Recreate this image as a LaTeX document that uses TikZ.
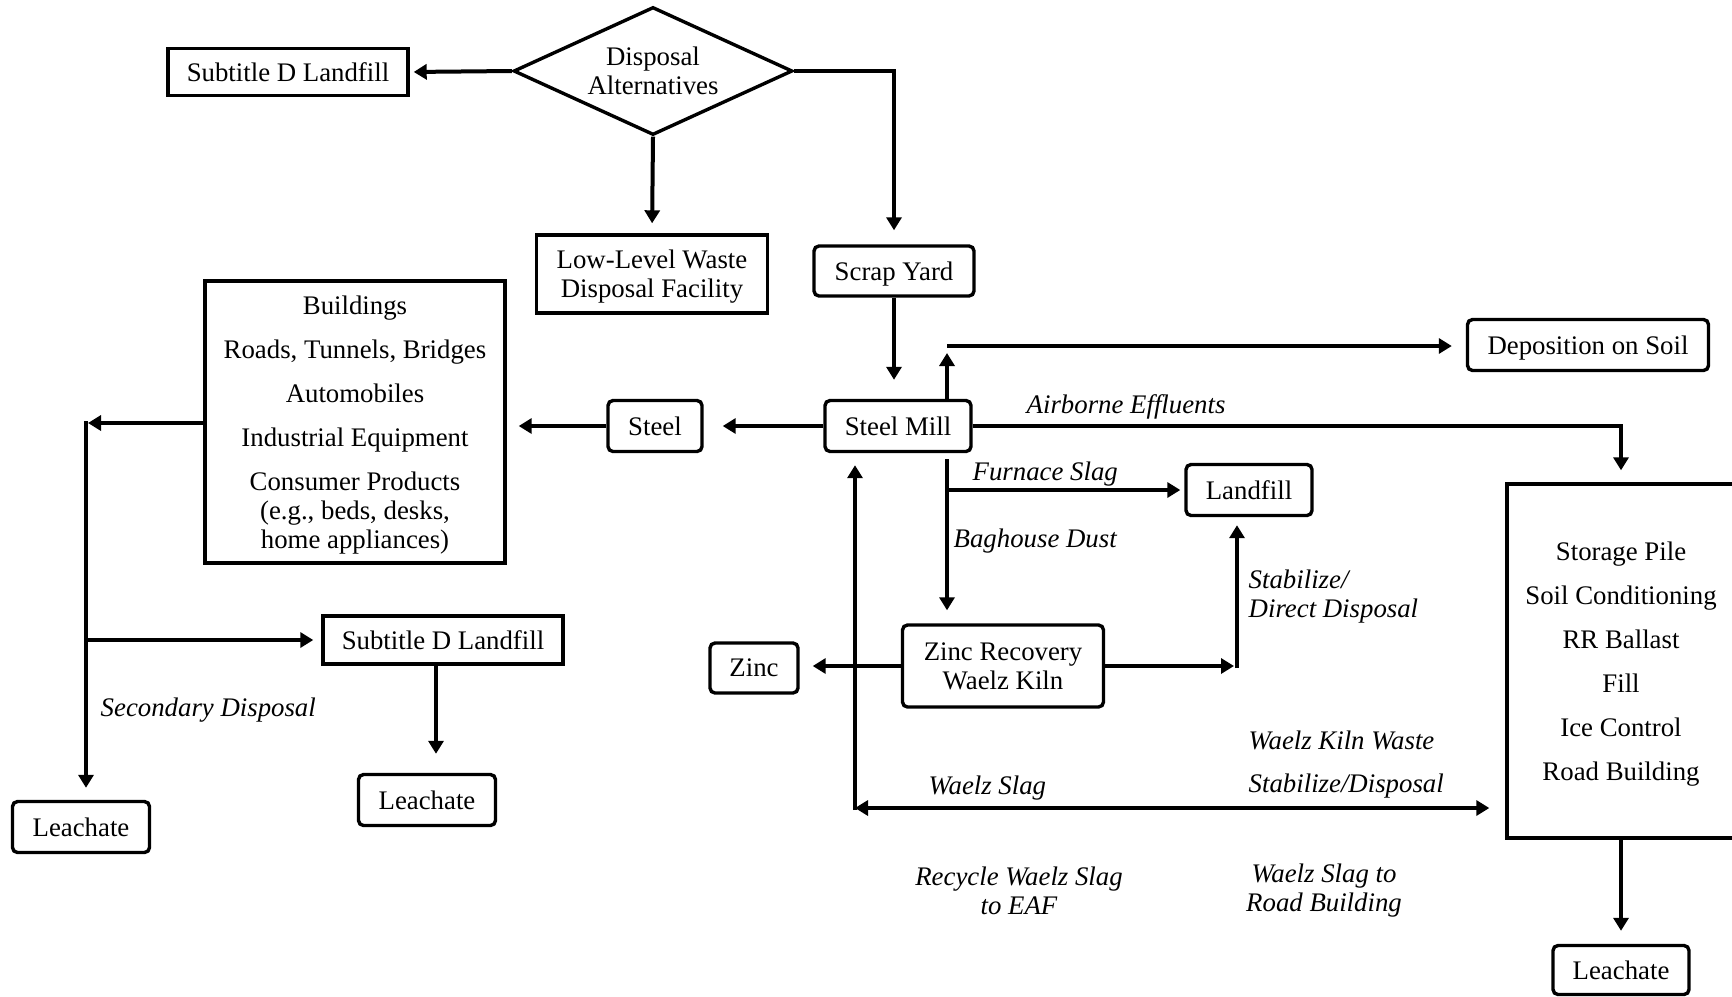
\documentclass[tikz,border=0pt]{standalone}
\usepackage{fontspec}
\setmainfont{Liberation Serif}
\usetikzlibrary{shapes.geometric,arrows.meta}
\begin{document}
\begin{tikzpicture}
    [x=0.5pt, y=-0.5pt, line width=1.7pt,
      font=\fontsize{13.4}{14.5}\selectfont,
      box/.style={draw, rectangle, inner sep=0pt, align=center, text depth=0pt},
      rbox/.style={box, rounded corners=2.5pt},
      lbl/.style={inner sep=0pt, font=\fontsize{13.4}{14.5}\selectfont\itshape},
      arr/.style={-{Triangle[length=6.5pt,width=7.5pt]}, line width=2pt}]
    \useasboundingbox (0,0) rectangle (1732,996);
    \node[draw, diamond, aspect=2.2, inner sep=0pt, align=center,
      minimum width=139.5pt, minimum height=64pt] (disp) at (653,71) {Disposal\\Alternatives};
    \node[box, minimum width=120pt, minimum height=23.5pt] (subA) at (288,72) {Subtitle D Landfill};
    \node[box, minimum width=115.5pt, minimum height=39pt] (llw) at (652,274) {Low-Level Waste\\Disposal Facility};
    \node[rbox, minimum width=80pt, minimum height=25pt] (scrap) at (894,271) {Scrap Yard};
    \node[rbox, minimum width=73pt, minimum height=25.5pt] (mill) at (898,426) {Steel Mill};
    \node[rbox, minimum width=47pt, minimum height=25.5pt] (steel) at (655,426) {Steel};
    \node[box, minimum width=150pt, minimum height=141pt] (bldg) at (355,422)
      {Buildings\\[7.5pt]Roads, Tunnels, Bridges\\[7.5pt]Automobiles\\[7.5pt]Industrial Equipment\\[7.5pt]Consumer Products\\(e.g., beds, desks,\\home appliances)};
    \node[rbox, minimum width=120.5pt, minimum height=25.5pt] (depo) at (1588,345) {Deposition on Soil};
    \node[rbox, minimum width=63pt, minimum height=25.5pt] (fill) at (1249,490) {Landfill};
    \node[rbox, minimum width=100.5pt, minimum height=41pt] (kiln) at (1003,666) {Zinc Recovery\\Waelz Kiln};
    \node[rbox, minimum width=44pt, minimum height=25pt] (zinc) at (754,668) {Zinc};
    \node[box, minimum width=120pt, minimum height=24pt] (subB) at (443,640) {Subtitle D Landfill};
    \node[rbox, minimum width=68.5pt, minimum height=25.5pt] (leachA) at (81,827) {Leachate};
    \node[rbox, minimum width=68.5pt, minimum height=25.5pt] (leachB) at (427,800) {Leachate};
    \node[box, minimum width=114pt, minimum height=177pt] (store) at (1621,661)
      {Storage Pile\\[7.5pt]Soil Conditioning\\[7.5pt]RR Ballast\\[7.5pt]Fill\\[7.5pt]Ice Control\\[7.5pt]Road Building};
    \node[rbox, minimum width=68pt, minimum height=24.5pt] (leachC) at (1621,970) {Leachate};

    \coordinate (up) at (947,346);
    \coordinate (split) at (86,423);
    \coordinate (stab) at (1237,666);
    \coordinate (slag) at (855,808);

    \draw[arr, shorten >=2pt] (disp.west) -- (subA.east);
    \draw[arr, shorten >=5pt] (disp.south) -- (llw.north);
    \draw[arr, shorten >=7pt] (disp.east) -| (scrap.north);
    \draw[arr, shorten >=9.5pt] (scrap.south) -- (scrap.south |- mill.north);
    \draw[arr, shorten >=3.5pt] (mill.north -| up) -- (up);
    \draw[arr, shorten >=7pt] (up) -- (up -| depo.west);
    \draw[arr, shorten >=6pt] (mill.east) -| (store.north);
    \draw[arr, shorten >=9.5pt] (mill.west) -- (steel.east);
    \draw[arr, shorten >=6pt] (steel.west) -- (steel.west -| bldg.east);
    \draw[arr, shorten >=1pt] (bldg.west |- split) -- (split);
    \draw[arr, shorten >=6pt] ([yshift=1pt]split) -- (split |- leachA.north);
    \draw[arr, shorten >=4pt] (split |- subB.west) -- (subB.west);
    \draw[arr, shorten >=9.5pt] ([xshift=-3.5pt]subB.south) -- ([xshift=-3.5pt]subB.south |- leachB.north);
    \draw[arr, shorten >=6.5pt] ([yshift=-3pt]mill.south -| up) -- (up |- kiln.north);
    \draw[arr, shorten >=2pt] (up |- fill.west) -- (fill.west);
    \draw[arr, shorten >=1.5pt] (kiln.east) -- (stab);
    \draw[arr, shorten >=4pt] ([yshift=-1pt]stab) -- (stab |- fill.south);
    \draw[arr, shorten >=6.5pt] (kiln.west) -- (kiln.west -| zinc.east);
    \draw[arr, shorten >=6pt] ([yshift=-1pt]slag) -- (slag |- mill.south);
    \draw[{Triangle[length=6.5pt,width=7.5pt]}-{Triangle[length=6.5pt,width=7.5pt]}, line width=2pt,
      shorten >=8pt] (slag) -- (slag -| store.west);
    \draw[arr] (store.south) -- ([yshift=6.5pt]leachC.north);

    \node[lbl, anchor=base west] (air) at (1025,413) {Airborne Effluents};
    \node[lbl, anchor=base west] (furn) at (971,480) {Furnace Slag};
    \node[lbl, anchor=base west] (bag) at (952,547) {Baghouse Dust};
    \node[lbl, anchor=west, align=left] (direct) at (1247,597) {Stabilize/\\Direct Disposal};
    \node[lbl, anchor=base west] (kwaste) at (1247,749) {Waelz Kiln Waste};
    \node[lbl, anchor=base west] (sdisp) at (1247,792) {Stabilize/Disposal};
    \node[lbl, anchor=base west] (wslag) at (927,794) {Waelz Slag};
    \node[lbl, align=center] (recyc) at (1019,891) {Recycle Waelz Slag\\to EAF};
    \node[lbl, align=center] (road) at (1324,891) {Waelz Slag to\\Road Building};
    \node[lbl, anchor=base west] (second) at (99,716) {Secondary Disposal};
  \end{tikzpicture}
\end{document}
